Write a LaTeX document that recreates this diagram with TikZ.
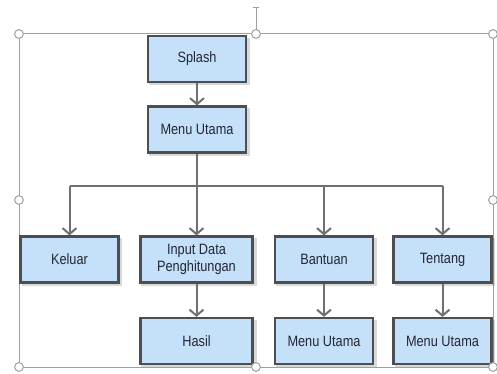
\documentclass[tikz,border=0pt]{standalone}
\usepackage{fontspec}
\setmainfont{Liberation Sans}[FakeStretch=0.85]
\usetikzlibrary{arrows.meta,shadows}

\definecolor{biru}{RGB}{197,224,249}
\definecolor{garis}{RGB}{78,78,82}
\definecolor{abu}{RGB}{112,112,112}
\definecolor{bingkai}{RGB}{160,160,160}
\definecolor{teks}{RGB}{36,38,52}

\begin{document}
\begin{tikzpicture}[x=0.5pt,y=-0.5pt,
    kotak/.style={draw=garis,line width=1.1pt,fill=biru,text=teks,
      minimum width=49pt,minimum height=23pt,align=center,inner sep=1pt,
      font=\fontsize{7.5}{8.4}\selectfont,
      drop shadow={shadow xshift=1.2pt,shadow yshift=-1.2pt,shadow scale=1.03,fill=black,opacity=.15}},
    panah/.style={draw=abu,line width=1pt,arrows={-Straight Barb[length=3pt,width=7pt]}},
    hubung/.style={draw=abu,line width=1pt},
    pegangan/.style={draw=bingkai,fill=white,line width=.5pt}]
      \useasboundingbox (0,0) rectangle (497,374);
      \draw[bingkai,line width=.5pt] (19,34) rectangle (493,367);
      \draw[bingkai,line width=.5pt] (256,34) -- (256,8); %putar
      \draw[bingkai,line width=.5pt] (253,8) -- (259,8);

      \node[kotak] (splash) at (197,59) {Splash};
      \node[kotak] (menu) at (197,129.5) {Menu Utama};
      \node[kotak] (keluar) at (69.5,259.5) {Keluar};
      \node[kotak,minimum width=56pt] (input) at (196.5,259.5) {Input Data\\Penghitungan};
      \node[kotak] (bantuan) at (324,259.5) {Bantuan};
      \node[kotak] (tentang) at (442.5,259.5) {Tentang};
      \node[kotak,minimum width=56pt] (hasil) at (196.5,341) {Hasil};
      \node[kotak] (menu2) at (324,341) {Menu Utama};
      \node[kotak] (menu3) at (442.5,341) {Menu Utama};

      \coordinate (cabang) at (197,186);
      \draw[panah] (splash) -- (menu); %splash-menu
      \draw[hubung] (menu) -- (cabang); %menu-cabang
      \draw[hubung] (keluar.north |- cabang) -- (tentang.north |- cabang);
      \draw[panah] (keluar.north |- cabang) -- (keluar); %cabang-keluar
      \draw[panah] (input.north |- cabang) -- (input); %cabang-input
      \draw[panah] (bantuan.north |- cabang) -- (bantuan); %cabang-bantuan
      \draw[panah] (tentang.north |- cabang) -- (tentang); %cabang-tentang
      \draw[panah] (input) -- (hasil); %input-hasil
      \draw[panah] (bantuan) -- (menu2); %bantuan-menu
      \draw[panah] (tentang) -- (menu3); %tentang-menu

      \foreach \p in {(19,34),(256,34),(493,34),(19,200),(493,200),(19,367),(256,367),(493,367)}
        \draw[pegangan] \p circle (2.2pt);
\end{tikzpicture}
\end{document}
